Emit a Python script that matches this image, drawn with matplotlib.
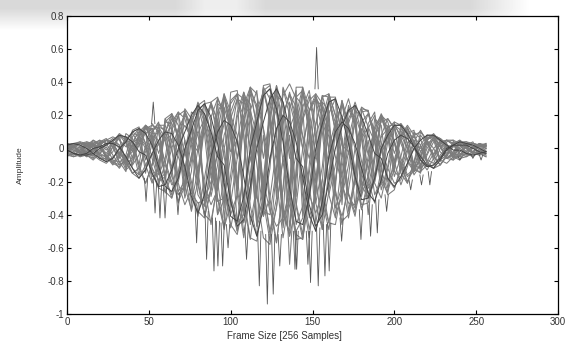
import numpy as np
import matplotlib
matplotlib.use('Agg')
import matplotlib.pyplot as plt

plt.rcParams['font.family'] = ['Liberation Sans', 'DejaVu Sans']

# sample index of every stored point (every 4th sample of the 256-sample frame)
sample_idx = list(range(0, 257, 4))

# windowed speech frames (amplitude at each stored sample)
frame_01 = [0.00, .02, .03, .02, 0, -.04, -.07, -.06, 0, .05, .10, .07, 0, -.12, -.19, -.15,
            0, .12, .20, .14, 0, -.23, -.34, -.25, 0, .18, .30, .19, 0, -.30, -.41, -.30,
            0, .20, .32, .20, 0, -.28, -.39, -.27, 0, .16, .26, .15, 0, -.20, -.27, -.18,
            0, .10, .14, .08, 0, -.10, -.12, -.08, 0, .04, .05, .03, 0, -.03, -.04, -.03, 0]
frame_02 = [.03, .01, -.02, -.05, -.04, .02, .05, .03, -.04, -.13, -.09, .04, .13, .06, -.08, -.27,
            -.16, .07, .22, .11, -.13, -.41, -.24, .10, .31, .14, -.17, -.51, -.29, .12, .36, .16,
            -.18, -.54, -.30, .12, .35, .15, -.17, -.49, -.26, .10, .29, .12, -.13, -.37, -.19, .07,
            .20, .08, -.08, -.22, -.11, .04, .11, .04, -.04, -.10, -.05, .02, .05, .01, -.02, -.04, -.02]
frame_03 = [-.01, -.03, -.04, -.04, -.03, 0, .02, .05, .08, .07, .04, -.02, -.04, -.15, -.23, -.22,
            -.13, 0, .10, .20, .26, .21, .10, -.05, -.10, -.32, -.47, -.43, -.23, 0, .16, .30,
            .36, .28, .12, -.06, -.11, -.34, -.47, -.40, -.20, 0, .13, .23, .26, .19, .08, -.03,
            -.06, -.18, -.23, -.17, -.09, 0, .05, .08, .08, .05, .02, -.01, -.01, -.03, -.04, -.03, -.02]
frame_04 = [.03, .01, -.03, -.01, .05, .02, -.06, -.02, .08, .03, -.10, -.04, .14, .05, -.16, -.06,
            .21, .07, -.23, -.08, .27, .09, -.29, -.10, .33, .11, -.45, -.11, .37, .12, -.36, -.12,
            .38, .12, -.70, -.12, .36, .11, -.33, -.11, .31, .10, -.29, -.10, .26, .08, -.40, -.07,
            .19, .06, -.17, -.05, .12, .04, -.10, -.03, .07, .02, -.06, -.02, .04, .01, -.03, -.01, .03]
frame_05 = [-.02, .02, .03, .01, -.06, -.02, .03, .06, .02, -.12, -.05, .07, .13, .03, -.22, -.09,
            .11, .20, .05, -.33, -.13, .15, .27, .07, -.42, -.16, .19, .32, .08, -.47, -.18, .20,
            .34, .08, -.47, -.18, .19, .32, .07, -.43, -.15, .16, .27, .06, -.35, -.12, .12, .20,
            .04, -.24, -.07, .08, .13, .03, -.14, -.04, .04, .06, .01, -.06, -.02, .02, .03, .01, -.04]
frame_06 = [.02, .01, -.02, -.05, -.04, -.01, .02, .04, .02, -.06, -.15, -.12, -.02, .05, .11, .04,
            -.13, -.32, -.23, -.04, .09, .18, .06, -.20, -.48, -.33, -.06, .11, .23, .08, -.24, -.52,
            -.36, -.06, .12, .23, .07, -.23, -.50, -.32, -.05, .10, .19, .06, -.17, -.37, -.23, -.04,
            .07, .12, .04, -.09, -.20, -.12, -.02, .03, .05, .01, -.04, -.07, -.04, -.01, .01, .02, .01]
frame_07 = [.02, .03, .02, 0, -.03, -.06, -.08, -.06, 0, .04, .10, .12, .09, .02, -.11, -.23,
            -.26, -.18, 0, .11, .23, .27, .19, .03, -.21, -.41, -.44, -.29, 0, .16, .32, .36,
            .24, .04, -.24, -.44, -.46, -.29, 0, .15, .28, .30, .19, .03, -.17, -.31, -.30, -.18,
            0, .08, .14, .14, .09, .01, -.07, -.11, -.10, -.06, 0, .02, .04, .03, .02, 0, -.02]
frame_08 = [.03, .02, -.02, .04, .02, -.04, .05, .04, -.06, .09, .06, -.10, .14, .08, -.14, .18,
            .11, -.18, .23, .13, -.22, .27, .16, -.25, .32, .18, -.28, .34, .19, -.30, .36, .20,
            -.30, .36, .20, -.29, .34, .19, -.28, .32, .17, -.24, .29, .15, -.22, .24, .13, -.18,
            .20, .10, -.14, .15, .08, -.10, .10, .05, -.07, .06, .03, -.04, .04, .02, -.03, .03, .01]
frame_09 = [-.03, -.04, -.02, .01, .03, .01, -.05, -.09, -.03, .06, .09, .03, -.10, -.21, -.12, .10,
            .18, .08, -.15, -.38, -.20, .13, .26, .11, -.22, -.48, -.28, .17, .33, .14, -.25, -.50,
            -.30, .18, .34, .14, -.24, -.49, -.27, .15, .29, .11, -.19, -.42, -.20, .10, .21, .08,
            -.13, -.26, -.12, .06, .12, .04, -.07, -.13, -.06, .03, .05, .02, -.03, -.05, -.02, .01, .02]
frame_10 = [-.01, -.03, -.04, -.03, 0, .01, .03, .03, .01, -.05, -.12, -.18, -.13, -.03, .05, .10,
            .09, .02, -.11, -.29, -.39, -.28, -.05, .10, .17, .14, .04, -.17, -.41, -.53, -.36, -.06,
            .12, .20, .16, .04, -.17, -.40, -.50, -.32, -.05, .10, .16, .12, .03, -.12, -.27, -.32,
            -.19, -.03, .05, .08, .06, .01, -.05, -.10, -.12, -.07, -.01, .02, .02, .02, 0, -.02, -.03]
frame_11 = [.01, .03, .02, -.03, -.02, .04, .06, .02, -.09, -.04, .11, .13, .03, -.20, -.10, .18,
            .21, .05, -.30, -.14, .26, .29, .07, -.40, -.19, .34, .35, .08, -.46, -.22, .38, .39,
            .09, -.48, -.22, .37, .37, .08, -.45, -.20, .31, .31, .06, -.38, -.16, .24, .23, .04,
            -.25, -.11, .16, .14, .03, -.14, -.06, .08, .07, .01, -.06, -.03, .04, .03, .01, -.03, -.01]
frame_12 = [0, .01, -.01, .02, -.02, .02, -.03, .03, -.04, .05, -.06, .06, -.07, .08, -.09, .10,
            -.12, .12, -.14, .13, -.16, .15, -.18, .16, -.20, .17, -.21, .18, -.22, .19, -.23, .19,
            -.24, .19, -.23, .18, -.22, .17, -.21, .16, -.19, .15, -.17, .13, -.15, .12, -.13, .10,
            -.11, .08, -.09, .06, -.07, .05, -.05, .04, -.04, .03, -.03, .02, -.02, .01, -.02, .01, .01]
frame_13 = [.02, 0, -.03, -.04, -.01, .03, .05, .03, -.03, -.08, -.07, .02, .12, .14, .10, -.10,
            -.22, -.20, -.02, .18, .26, .16, -.10, -.32, -.30, -.05, .22, .34, .22, -.10, -.38, -.40,
            -.12, .20, .33, .25, 0, .22, .30, .10, -.28, -.10, .15, .24, .14, -.08, -.24, -.20,
            -.02, .13, .15, .06, -.08, -.14, -.10, 0, .06, .06, .02, -.03, -.04, -.02, .01, .03, .02]
frame_14 = [.02, .03, .01, -.04, -.06, .04, .05, .01, -.08, -.14, .10, .12, .03, -.15, -.24, .16,
            .20, .05, -.23, -.37, .23, .27, .06, -.30, -.47, .29, .33, .08, -.35, -.53, .32, .36,
            .08, -.36, -.53, .31, .35, .08, -.33, -.49, .28, .30, .06, -.27, -.39, .22, .23, .05,
            -.19, -.27, .14, .14, .03, -.12, -.15, .08, .08, .01, -.06, -.07, .04, .04, .01, -.03, -.05]
frame_15 = [-.05, -.02, .01, -.04, -.07, -.03, .01, -.07, -.12, -.06, .02, -.12, -.21, -.10, .04, -.18,
            -.30, -.14, .05, -.25, -.41, -.18, .06, -.30, -.49, -.22, .07, -.34, -.55, -.24, .08, -.36,
            -.57, -.24, .08, -.35, -.55, -.23, .07, -.32, -.49, -.20, .06, -.28, -.41, -.16, .05, -.21,
            -.30, -.12, .04, -.15, -.21, -.08, .02, -.09, -.12, -.04, .01, -.05, -.07, -.02, .01, -.03, -.05]
frame_16 = [.03, .02, 0, .02, .05, .03, -.01, .04, .09, .06, -.02, .07, .14, .10, -.03, .10,
            .21, .14, -.04, .14, .28, .18, -.05, .17, .33, .22, -.06, .19, .37, .23, -.06, .20,
            .38, .24, -.06, .20, .37, .23, -.06, .18, .33, .20, -.05, .15, .28, .16, -.04, .11,
            .21, .12, -.03, .08, .14, .08, -.02, .05, .09, .04, -.01, .03, .05, .02, 0, .02, .03]
frame_17 = [-.03, .01, .03, .03, 0, -.06, -.06, .01, .07, .07, 0, -.16, -.13, .03, .14, .14,
            0, -.28, -.23, .05, .23, .21, 0, -.40, -.31, .07, .30, .27, 0, -.47, -.35, .08,
            .32, .28, 0, -.46, -.35, .08, .30, .25, 0, -.40, -.29, .06, .23, .19, 0, -.28,
            -.19, .04, .14, .11, 0, -.16, -.10, .02, .07, .05, 0, -.06, -.04, .01, .03, .02, 0]
frame_18 = [0, -.03, -.05, -.04, 0, .03, .05, .04, 0, -.09, -.15, -.12, 0, .10, .15, .10,
            0, -.21, -.34, -.25, 0, .18, .27, .17, 0, -.32, -.50, -.34, 0, .23, .34, .20,
            0, -.36, -.53, -.35, 0, .23, .31, .18, 0, -.28, -.41, -.25, 0, .16, .21, .11,
            0, -.18, -.24, -.13, 0, .08, .10, .05, 0, -.07, -.09, -.05, 0, .02, .03, .02, 0]
frame_19 = [-.04, .02, .04, -.04, .03, .05, -.07, .04, .08, -.11, .07, .12, -.15, .10, .16, -.21,
            .13, .22, -.27, .16, .26, -.32, .19, .30, -.36, .22, .33, -.40, .23, .35, -.41, .24,
            .36, -.42, .24, .35, -.41, .23, .33, -.38, .21, .30, -.34, .18, .26, -.29, .15, .22,
            -.22, .12, .16, -.14, .09, .11, -.12, .06, .08, -.08, .04, .05, -.05, .02, .04, -.04, .02]
frame_20 = [-.04, -.05, -.03, 0, .02, .01, -.04, -.09, -.11, -.06, .03, .07, .02, -.12, -.24, -.26,
            -.12, .06, .14, .06, -.20, -.40, -.44, -.22, .08, .20, .08, -.30, -.54, -.56, -.28, .10,
            .24, .10, -.30, -.55, -.54, -.26, .08, .20, .07, -.26, -.44, -.40, -.18, .06, .13, .04,
            -.17, -.28, -.25, -.10, .03, .07, .02, -.08, -.12, -.10, -.04, .01, .02, 0, -.03, -.04, -.03]
frame_21 = [.01, -.02, -.05, -.02, .04, .02, -.05, -.10, -.05, .07, .04, -.10, -.21, -.10, .13, .06,
            -.16, -.33, -.15, .19, .09, -.23, -.46, -.20, .25, .11, -.28, -.54, -.23, .27, .12, -.30,
            -.57, -.24, .28, .12, -.29, -.54, -.22, .25, .10, -.25, -.46, -.18, .20, .08, -.19, -.33,
            -.13, .14, .05, -.10, -.21, -.08, .08, .03, -.05, -.10, -.04, .04, .02, -.03, -.05, -.02, .02]
frame_22 = [.02, .03, .03, .02, 0, -.03, -.05, -.07, -.08, -.06, -.02, .04, .09, .12, .13, .11,
            .05, -.05, -.16, -.27, -.33, -.31, -.20, -.02, .15, .27, .33, .30, .18, 0, -.20, -.38,
            -.47, -.42, -.25, -.03, .17, .29, .33, .27, .13, -.05, -.22, -.33, -.34, -.24, -.08, .07,
            .16, .18, .12, .03, -.07, -.13, -.14, -.10, -.03, .03, .05, .05, .03, 0, -.02, -.03, -.02]
frame_23 = [.01, -.01, -.03, -.02, .02, .05, .03, -.04, -.10, -.08, .02, .12, .10, -.06, -.20, -.17,
            .05, .20, .23, .02, -.28, -.35, -.10, .22, .30, .10, -.25, -.45, -.30, .10, .37, .30,
            -.05, -.40, -.50, -.15, .25, .35, .12, -.30, -.45, -.20, .18, .30, .15, -.15, -.30, -.20,
            .08, .18, .12, -.06, -.16, -.12, .02, .08, .06, -.02, -.06, -.04, .01, .03, .02, -.01, -.02]
frame_24 = [-.02, -.04, -.01, .03, .02, -.05, -.08, .01, .08, .05, -.12, -.16, .02, .15, .10, -.18,
            -.28, -.02, .24, .18, -.22, -.40, -.08, .30, .22, -.30, -.50, -.12, .35, .26, -.32, -.56,
            -.12, .37, .25, -.33, -.52, -.10, .32, .20, -.28, -.42, -.07, .26, .15, -.22, -.30, -.04,
            .18, .10, -.14, -.18, -.02, .10, .06, -.07, -.09, 0, .05, .03, -.03, -.04, .01, .03, .01]
frame_25 = [.02, .03, .04, .03, .01, .02, .05, .07, .05, .01, .04, .10, .14, .11, .02, .06,
            .16, .22, .18, .04, -.02, .14, .28, .31, .20, -.02, .05, .26, .37, .33, .12, -.08,
            .10, .32, .39, .30, .08, -.06, .14, .31, .33, .20, .02, -.02, .15, .25, .22, .10,
            -.02, .04, .13, .15, .10, .02, 0, .06, .08, .06, .02, .01, .03, .04, .03, .02, .02]
frame_26 = [-.03, -.05, -.04, -.02, -.04, -.07, -.09, -.05, -.02, -.08, -.15, -.18, -.10, -.03, -.14, -.26,
            -.30, -.18, -.02, -.20, -.38, -.42, -.25, -.03, -.22, -.46, -.52, -.32, -.05, -.28, -.54, -.58,
            -.35, -.06, -.27, -.52, -.55, -.30, -.04, -.24, -.45, -.46, -.24, -.02, -.18, -.34, -.33, -.16,
            -.01, -.12, -.21, -.19, -.09, 0, -.07, -.11, -.10, -.05, -.01, -.04, -.06, -.05, -.03, -.02, -.04]
frame_27 = [-.01, .01, .03, .04, .03, 0, -.04, -.08, -.10, -.07, 0, .08, .13, .12, .04, -.08,
            -.20, -.28, -.22, -.05, .15, .27, .28, .16, -.05, -.28, -.45, -.40, -.15, .15, .35, .38,
            .22, -.08, -.35, -.50, -.42, -.15, .15, .32, .31, .15, -.08, -.28, -.36, -.26, -.05, .13,
            .20, .16, .03, -.10, -.17, -.14, -.04, .05, .08, .06, .01, -.03, -.05, -.03, 0, .02, .02]
frame_28 = [.02, -.01, -.03, .02, .03, -.04, -.05, .05, .06, -.09, -.10, .10, .10, -.17, -.15, .16,
            .15, -.26, -.20, .22, .20, -.34, -.25, .27, .24, -.40, -.28, .31, .27, -.44, -.30, .32,
            .28, -.45, -.30, .31, .26, -.42, -.27, .28, .23, -.36, -.23, .24, .19, -.28, -.17, .18,
            .14, -.20, -.11, .12, .09, -.12, -.07, .07, .05, -.07, -.04, .04, .03, -.04, -.02, .02, .02]

light_frames = [frame_01, frame_02, frame_04, frame_05, frame_06, frame_08, frame_09,
                frame_11, frame_12, frame_13, frame_14, frame_15, frame_16, frame_17,
                frame_18, frame_19, frame_20, frame_21, frame_22, frame_23, frame_24,
                frame_25, frame_26, frame_27, frame_28]
dark_frames = [frame_03, frame_07, frame_10]

# narrow single-sample peaks: position, level where they leave the bundle, tip
spike_x = [48.3, 52.7, 53.8, 56.8, 59.9, 67.8, 79.2, 85.3, 89.8, 92.2, 95.1, 98.4, 109.7,
           117.5, 122.4, 126.0, 130.0, 139.3, 140.3, 147.2, 148.8, 152.5, 153.5, 157.6,
           160.2, 167.8, 179.6, 185.5, 189.6, 195.3, 210.0, 216.6, 221.7, 240.0, 248.0, 253.0]
spike_base = [-.18, .15, -.20, -.22, -.24, -.27, -.33, -.38, -.42, -.44, -.45, -.46, -.48,
              -.50, -.52, -.52, -.52, -.50, -.50, -.50, -.50, .36, -.48, -.46,
              -.45, -.42, -.37, -.34, -.31, -.28, -.19, -.16, -.14, -.05, -.04, -.04]
spike_tip = [-.32, .28, -.39, -.42, -.42, -.40, -.57, -.67, -.74, -.71, -.71, -.60, -.67,
             -.83, -.94, -.88, -.71, -.73, -.73, -.70, -.81, .61, -.83, -.77,
             -.74, -.56, -.55, -.53, -.51, -.38, -.25, -.22, -.22, -.07, -.06, -.07]

x_ticks = [0, 50, 100, 150, 200, 250, 300]
y_ticks = [-1, -0.8, -0.6, -0.4, -0.2, 0, 0.2, 0.4, 0.6, 0.8]

fig = plt.figure(figsize=(5.73, 3.43), dpi=100)

# faded grey strip along the top edge of the scanned page
bg = fig.add_axes([0, 0, 1, 1], zorder=-1)
fade = np.interp(np.arange(343), [0, 8, 30, 343], [1, 1, 0, 0])
cols = np.interp(np.arange(573), [0, 175, 205, 235, 265, 470, 530, 573], [1, 1, .45, .45, 1, 1, 0, 0])
strip = 1 - 0.15 * np.outer(fade, cols)
bg.imshow(strip, cmap='gray', vmin=0, vmax=1, aspect='auto', extent=[0, 1, 0, 1],
          origin='upper', interpolation='bilinear')
bg.axis('off')

ax = fig.add_axes([67 / 573, 29 / 343, 491 / 573, 298 / 343])

for f in light_frames:
    ax.plot(sample_idx, f, color='#7c7c7c', lw=0.75)
for sx, sb, st in zip(spike_x, spike_base, spike_tip):
    ax.plot([sx - 1.0, sx, sx + 1.0], [sb, st, sb], color='#555555', lw=0.6)
for f in dark_frames:
    ax.plot(sample_idx, f, color='#444444', lw=0.7)

ax.set_xlim(0, 300)
ax.set_ylim(-1, 0.8)
ax.set_xticks(x_ticks)
ax.set_yticks(y_ticks)
ax.set_yticklabels(['%g' % v for v in y_ticks])
ax.tick_params(direction='in', length=3, width=0.8, labelsize=7, top=True, right=True,
               labelcolor='#333333', pad=2)
for s in ax.spines.values():
    s.set_linewidth(0.9)

ax.set_xlabel('Frame Size [256 Samples]', fontsize=7, color='#333333')
ax.xaxis.set_label_coords(0.442, -0.057)
ax.set_ylabel('Amplitude', fontsize=6, color='#333333')
ax.yaxis.set_label_coords(-0.088, 0.5)

fig.savefig('out.png', dpi=100)
